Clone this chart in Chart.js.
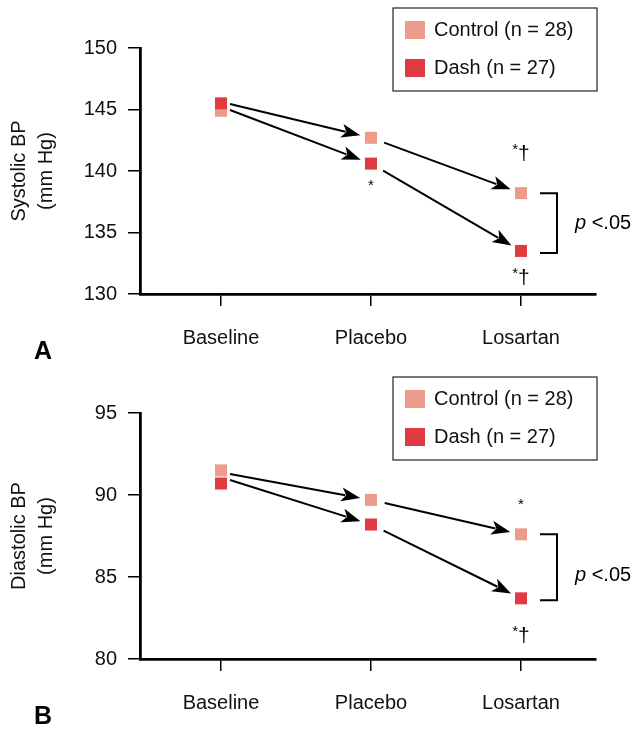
<!DOCTYPE html>
<html>
<head>
<meta charset="utf-8">
<script src="https://cdn.jsdelivr.net/npm/chart.js@4.4.1/dist/chart.umd.min.js"></script>
<style>
    html, body { margin: 0; padding: 0; background: #fff; }
    canvas { display: block; }
</style>
</head>
<body>
<canvas id="chartA" width="635" height="365"></canvas>
<canvas id="chartB" width="635" height="366"></canvas>
<script>
// Datos
const PHASES = ['Baseline', 'Placebo', 'Losartan'];
const SERIES_NAMES = ['Control (n = 28)', 'Dash (n = 27)'];
const SYSTOLIC_CONTROL = [144.9, 142.7, 138.2];
const SYSTOLIC_DASH = [145.5, 140.6, 133.5];
const DIASTOLIC_CONTROL = [91.5, 89.7, 87.6];
const DIASTOLIC_DASH = [90.7, 88.2, 83.7];
const SYSTOLIC_TICKS = [130, 135, 140, 145, 150];
const DIASTOLIC_TICKS = [80, 85, 90, 95];

const CONTROL_COLOR = '#ef9b8b';
const DASH_COLOR = '#e13a40';
const FONT = '"Liberation Sans", Arial, Helvetica, sans-serif';

Chart.defaults.font.family = FONT;
Chart.defaults.color = '#111';

/**
 * Dibuja una flecha con punta rellena.
 */
function drawArrow(ctx, x0, y0, x1, y1) {
    const ang = Math.atan2(y1 - y0, x1 - x0);
    const head = 19, half = 7;
    const c = Math.cos(ang), s = Math.sin(ang);
    const bx = x1 - head * c, by = y1 - head * s;
    ctx.beginPath();
    ctx.moveTo(x0, y0);
    ctx.lineTo(x1 - head * 0.8 * c, y1 - head * 0.8 * s);
    ctx.stroke();
    ctx.beginPath();
    ctx.moveTo(x1, y1);
    ctx.lineTo(bx + half * s, by - half * c);
    ctx.lineTo(x1 - head * 0.75 * c, y1 - head * 0.75 * s);
    ctx.lineTo(bx - half * s, by + half * c);
    ctx.closePath();
    ctx.fill();
}

/**
 * Dibuja "*" o "*†" centrado en x.
 */
function drawMark(ctx, text, x, y) {
    ctx.textBaseline = 'middle';
    ctx.textAlign = 'left';
    const starFont = '15px ' + FONT;
    const dagFont = '21px ' + FONT;
    ctx.font = starFont;
    const ws = ctx.measureText('*').width;
    let wd = 0;
    if (text.includes('†')) {
        ctx.font = dagFont;
        wd = ctx.measureText('†').width;
    }
    let sx = x - (ws + wd) / 2;
    ctx.font = starFont;
    ctx.fillText('*', sx, text.includes('†') ? y - 4 : y);
    if (wd) {
        ctx.font = dagFont;
        ctx.fillText('†', sx + ws, y);
    }
}

// Plugin de anotaciones: flechas, leyenda, marcas, corchete y letra del panel
const annotPlugin = {
    id: 'annot',
    afterDatasetsDraw(chart, args, opts) {
        const ctx = chart.ctx;
        const ctrl = chart.getDatasetMeta(0).data;
        const dash = chart.getDatasetMeta(1).data;
        ctx.save();
        ctx.strokeStyle = '#000';
        ctx.fillStyle = '#000';
        ctx.lineWidth = 2;

        // Flechas entre fases
        const series = [ctrl, dash];
        series.forEach((pts, k) => {
            const other = series[1 - k];
            for (let i = 0; i < pts.length - 1; i++) {
                const a = pts[i], b = pts[i + 1];
                let sx, sy;
                if (i === 0) {
                    const mid = (a.y + other[i].y) / 2;
                    sx = a.x + 9;
                    sy = b.y < other[i + 1].y ? mid - 3 : mid + 3;
                } else {
                    const d = Math.hypot(b.x - a.x, b.y - a.y);
                    sx = a.x + 14 * (b.x - a.x) / d;
                    sy = a.y + 14 * (b.y - a.y) / d;
                }
                const d2 = Math.hypot(b.x - sx, b.y - sy);
                const ex = b.x - 11 * (b.x - sx) / d2;
                const ey = b.y - 11 * (b.y - sy) / d2;
                drawArrow(ctx, sx, sy, ex, ey);
            }
        });

        // Marcas de significacion
        opts.marks.forEach(m => {
            const p = series[m.series][m.index];
            drawMark(ctx, m.text, p.x, p.y + m.dy);
        });

        // Corchete p < .05
        const last = ctrl.length - 1;
        const bx0 = ctrl[last].x + 19, bx1 = ctrl[last].x + 36;
        const yTop = ctrl[last].y, yBot = dash[last].y + 2;
        ctx.beginPath();
        ctx.moveTo(bx0, yTop);
        ctx.lineTo(bx1, yTop);
        ctx.lineTo(bx1, yBot);
        ctx.lineTo(bx0, yBot);
        ctx.stroke();
        ctx.textBaseline = 'middle';
        ctx.textAlign = 'left';
        const ym = (yTop + yBot) / 2 + opts.pShift;
        ctx.font = 'italic 20px ' + FONT;
        ctx.fillText('p', bx1 + 18, ym);
        const wp = ctx.measureText('p').width;
        ctx.font = '20px ' + FONT;
        ctx.fillText(' <.05', bx1 + 18 + wp, ym);

        // Leyenda
        const lx = 393, ly = opts.legendTop;
        ctx.lineWidth = 1.2;
        ctx.strokeStyle = '#222';
        ctx.strokeRect(lx, ly, 204, 83);
        chart.data.datasets.forEach((ds, j) => {
            const cy = ly + 22 + 38 * j;
            ctx.fillStyle = ds.backgroundColor;
            ctx.fillRect(lx + 12, cy - 9, 20, 18);
            ctx.fillStyle = '#111';
            ctx.font = '20px ' + FONT;
            ctx.fillText(ds.label, lx + 41, cy);
        });

        // Letra del panel
        ctx.font = 'bold 25px ' + FONT;
        ctx.fillStyle = '#000';
        ctx.fillText(opts.letter, 34, 352);
        ctx.restore();
    }
};

/**
 * Crea un panel con las dos series.
 */
function makePanel(canvasId, control, dash, yTicks, title, annot, padBottom) {
    const toPts = arr => arr.map((v, i) => ({ x: i, y: v }));
    return new Chart(document.getElementById(canvasId), {
        type: 'line',
        data: {
            datasets: [
                {
                    label: SERIES_NAMES[0],
                    data: toPts(control),
                    backgroundColor: CONTROL_COLOR,
                    borderColor: CONTROL_COLOR,
                    order: 1
                },
                {
                    label: SERIES_NAMES[1],
                    data: toPts(dash),
                    backgroundColor: DASH_COLOR,
                    borderColor: DASH_COLOR,
                    order: 0
                }
            ]
        },
        options: {
            responsive: false,
            animation: false,
            showLine: false,
            elements: {
                point: { pointStyle: 'rect', radius: 8.5, borderWidth: 0, hoverRadius: 8.5 }
            },
            layout: { padding: { top: 48, right: 39, bottom: padBottom, left: 0 } },
            plugins: {
                legend: { display: false },
                tooltip: { enabled: false },
                annot: annot
            },
            scales: {
                x: {
                    type: 'linear',
                    min: -0.54,
                    max: 2.5,
                    afterBuildTicks: s => { s.ticks = PHASES.map((_, i) => ({ value: i })); },
                    afterFit: s => { s.height = 56; },
                    ticks: {
                        callback: v => PHASES[v],
                        font: { size: 20 },
                        color: '#111',
                        padding: 20
                    },
                    grid: { drawOnChartArea: false, tickLength: 12, color: '#000', lineWidth: 1.5 },
                    border: { color: '#000', width: 2.8 }
                },
                y: {
                    min: yTicks[0],
                    max: yTicks[yTicks.length - 1],
                    afterBuildTicks: s => { s.ticks = yTicks.map(v => ({ value: v })); },
                    afterFit: s => { s.width = 140; },
                    ticks: {
                        font: { size: 20 },
                        color: '#111',
                        padding: 11
                    },
                    grid: { drawOnChartArea: false, tickLength: 12, color: '#000', lineWidth: 1.5 },
                    border: { color: '#000', width: 2.8 },
                    title: {
                        display: true,
                        text: title,
                        font: { size: 20, lineHeight: 1.35 },
                        color: '#111',
                        padding: { top: 6, bottom: 0 }
                    }
                }
            }
        },
        plugins: [annotPlugin]
    });
}

document.addEventListener('DOMContentLoaded', () => {
    makePanel('chartA', SYSTOLIC_CONTROL, SYSTOLIC_DASH, SYSTOLIC_TICKS,
        ['Systolic BP', '(mm Hg)'],
        {
            letter: 'A',
            legendTop: 8,
            pShift: 0,
            marks: [
                { series: 1, index: 1, text: '*', dy: 22 },
                { series: 0, index: 2, text: '*†', dy: -39 },
                { series: 1, index: 2, text: '*†', dy: 27 }
            ]
        }, 15);

    makePanel('chartB', DIASTOLIC_CONTROL, DIASTOLIC_DASH, DIASTOLIC_TICKS,
        ['Diastolic BP', '(mm Hg)'],
        {
            letter: 'B',
            legendTop: 12,
            pShift: 8,
            marks: [
                { series: 0, index: 2, text: '*', dy: -30 },
                { series: 1, index: 2, text: '*†', dy: 38 }
            ]
        }, 16);
});
</script>
</body>
</html>
